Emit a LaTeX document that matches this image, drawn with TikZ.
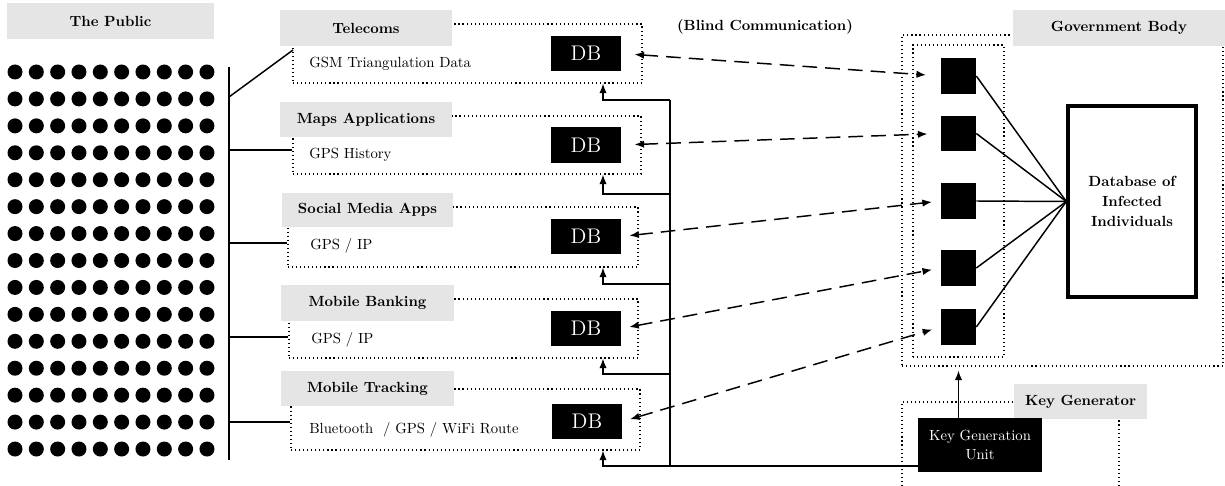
\documentclass[tikz,border=0pt]{standalone}
\usetikzlibrary{arrows.meta,fit}
\begin{document}
\begin{tikzpicture}[x=0.68pt,y=-0.68pt,
  hdr/.style={fill=black!10, inner sep=0pt},
  hdrtxt/.style={font=\bfseries, inner sep=0pt},
  dotbox/.style={draw, dotted, line width=0.75pt, inner sep=0pt},
  dbbox/.style={fill=black, inner sep=0pt},
  dbtxt/.style={text=white, font=\Large, inner sep=0pt},
  sq/.style={fill=black, inner sep=0pt},
  pdot/.style={circle, fill=black, inner sep=0pt, minimum size=10.2pt},
  wire/.style={line width=1pt},
  blind/.style={line width=1pt, dash pattern=on 10pt off 5.5pt, {Latex[length=6.5pt,width=5pt]}-{Latex[length=6.5pt,width=5pt]}},
  uparrow/.style={line width=1pt, -{Latex[length=6.5pt,width=5pt]}},
  txt/.style={anchor=base west, inner sep=0pt}
]
\clip (0,0) rectangle (1225,486);

% The public
\node[hdr, fit={(7,3)(214,39)}] (pubhdr) {};
\node[hdrtxt] (pubhdrt) at (pubhdr.center) {The Public};
\foreach \r in {0,...,14}{
  \foreach \c in {0,...,9}{
    \node[pdot] (dot-\r-\c) at ({15+21.33*\c},{72+26.93*\r}) {};
  }
}
\coordinate (pt) at (229,67);
\coordinate (pb) at (229,460);
\draw[wire] (pt) -- (pb);

% Telecoms
\node[dotbox, fit={(293,24)(642,83)}] (telbox) {};
\node[hdr, fit={(280,10)(452,46)}] (telhdr) {};
\node[hdrtxt] (telhdrt) at (telhdr.center) {Telecoms};
\node[txt] (teltxt) at (309,68) {GSM Triangulation Data};
\node[dbbox, fit={(551,36)(621,71)}] (teldb) {};
\node[dbtxt] (teldbt) at (teldb.center) {DB};

% Maps
\node[dotbox, fit={(293,116)(641,174)}] (mapbox) {};
\node[hdr, fit={(280,102)(452,137)}] (maphdr) {};
\node[hdrtxt] (maphdrt) at (maphdr.center) {Maps Applications};
\node[txt] (maptxt) at (309,159) {GPS History};
\node[dbbox, fit={(551,127)(621,163)}] (mapdb) {};
\node[dbtxt] (mapdbt) at (mapdb.center) {DB};

% Social
\node[dotbox, fit={(288,207)(638,267)}] (socbox) {};
\node[hdr, fit={(282,193)(453,227)}] (sochdr) {};
\node[hdrtxt] (sochdrt) at (sochdr.center) {Social Media Apps};
\node[txt] (soctxt) at (310,250) {GPS / IP};
\node[dbbox, fit={(551,219)(621,254)}] (socdb) {};
\node[dbtxt] (socdbt) at (socdb.center) {DB};

% Banking
\node[dotbox, fit={(289,299)(638,358)}] (bnkbox) {};
\node[hdr, fit={(281,285)(454,321)}] (bnkhdr) {};
\node[hdrtxt] (bnkhdrt) at (bnkhdr.center) {Mobile Banking};
\node[txt] (bnktxt) at (311,343) {GPS / IP};
\node[dbbox, fit={(551,311)(621,346)}] (bnkdb) {};
\node[dbtxt] (bnkdbt) at (bnkdb.center) {DB};

% Tracking
\node[dotbox, fit={(291,389)(640,450)}] (trkbox) {};
\node[hdr, fit={(281,371)(454,406)}] (trkhdr) {};
\node[hdrtxt] (trkhdrt) at (trkhdr.center) {Mobile Tracking};
\node[txt] (trktxt) at (309,433) {Bluetooth \ / GPS / WiFi Route};
\node[dbbox, fit={(552,404)(622,439)}] (trkdb) {};
\node[dbtxt] (trkdbt) at (trkdb.center) {DB};

% public branches
\coordinate (p1) at (229,97);
\coordinate (p1e) at (293,50);
\coordinate (p2) at (229,150);
\coordinate (p3) at (229,243);
\coordinate (p4) at (229,337);
\coordinate (p5) at (229,422);
\draw[wire] (p1) -- (p1e);
\draw[wire] (p2) -- (mapbox.west |- p2);
\draw[wire] (p3) -- (socbox.west |- p3);
\draw[wire] (p4) -- (bnkbox.west |- p4);
\draw[wire] (p5) -- (trkbox.west |- p5);

\node[font=\bfseries] (blind) at (765,27) {(Blind Communication)};

% Government body
\node[dotbox, fit={(902,35)(1223,366)}] (govbox) {};
\node[dotbox, fit={(913,45)(1004,357)}] (keybox) {};
\node[hdr, fit={(1013,10)(1225,46)}] (govhdr) {};
\node[hdrtxt] (govhdrt) at (govhdr.center) {Government Body};
\node[sq, fit={(941,58)(976,94)}] (k1) {};
\node[sq, fit={(941,116)(976,151)}] (k2) {};
\node[sq, fit={(941,183)(976,219)}] (k3) {};
\node[sq, fit={(941,250)(976,286)}] (k4) {};
\node[sq, fit={(941,309)(976,345)}] (k5) {};
\node[draw, line width=2.3pt, inner sep=0pt, fit={(1068,106)(1196,297)}] (infdb) {};
\node[hdrtxt, align=center] (infdbt) at (infdb.center) {Database of\\[1.8pt]Infected\\[1.8pt]Individuals};
\foreach \k in {k1,k2,k3,k4,k5}{
  \draw[wire] (\k.east) -- (infdb.west);
}

% Key generator
\node[dotbox, fit={(902,402)(1119,520)}] (kgbox) {};
\node[hdr, fit={(1014,384)(1147,419)}] (kghdr) {};
\node[hdrtxt] (kghdrt) at (kghdr.center) {Key Generator};
\node[fill=black, inner sep=0pt, fit={(918,418)(1042,472)}] (kgu) {};
\node[text=white, inner sep=0pt, align=center] (kgut) at (kgu.center) {Key Generation\\[1pt]Unit};
\draw[uparrow, shorten >=2.7pt] (kgu.north -| k1) -- (govbox.south -| k1);

% Bus
\coordinate (bus1) at (670,100);
\coordinate (bus2) at (670,194);
\coordinate (bus3) at (670,284);
\coordinate (bus4) at (670,374);
\coordinate (bus5) at (670,466);
\draw[wire] (bus1) -- (bus5);
\draw[wire] (kgu.west |- bus5) -- (bus5);
\coordinate (ax) at (603,0);
\draw[uparrow] (bus1) -| (telbox.south -| ax);
\draw[uparrow] (bus2) -| (mapbox.south -| ax);
\draw[uparrow] (bus3) -| (socbox.south -| ax);
\draw[uparrow] (bus4) -| (bnkbox.south -| ax);
\draw[uparrow] (bus5) -| (trkbox.south -| ax);

% Blind communication arrows
\draw[blind, shorten <=9pt, shorten >=10pt] (teldb.east) -- (k1.west);
\draw[blind, shorten <=9pt, shorten >=9pt] (mapdb.east) -- (k2.west);
\draw[blind, shorten <=5.5pt, shorten >=6pt] (socdb.east) -- (k3.west);
\draw[blind, shorten <=5.5pt, shorten >=6pt] (bnkdb.east) -- (k4.west);
\draw[blind, shorten <=5.5pt, shorten >=6pt] (trkdb.east) -- (k5.west);
\end{tikzpicture}
\end{document}
